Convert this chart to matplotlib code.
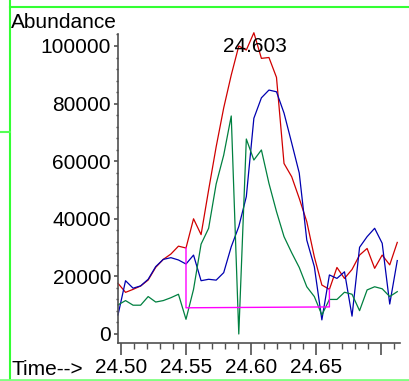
import matplotlib
matplotlib.use("Agg")
import matplotlib.pyplot as plt
from matplotlib.lines import Line2D
from matplotlib.ticker import MultipleLocator, FixedLocator

plt.rcParams['font.family'] = ['Liberation Sans', 'DejaVu Sans']

times = [24.4977, 24.5035, 24.5093, 24.5151, 24.5209, 24.5267, 24.5325, 24.5384,
         24.5442, 24.5500, 24.5558, 24.5616, 24.5674, 24.5732, 24.5790, 24.5848,
         24.5906, 24.5964, 24.6022, 24.6080, 24.6138, 24.6196, 24.6254, 24.6313,
         24.6371, 24.6429, 24.6487, 24.6545, 24.6603, 24.6661, 24.6719, 24.6777,
         24.6835, 24.6893, 24.6951, 24.7009, 24.7067, 24.7125]

red = [17600, 14460, 15500, 16660, 18740, 23140, 25900, 27770, 30500, 29850,
       40000, 34500, 50000, 65000, 78500, 89900, 100000, 98600, 104600, 95700,
       96000, 89100, 59200, 54600, 47100, 39000, 26800, 17000, 15500, 23100,
       19300, 22400, 27400, 29700, 22800, 27400, 24000, 31800]

blue = [6600, 18500, 15900, 16700, 19000, 23400, 25900, 26500, 25700, 24300,
        27400, 18500, 19000, 18700, 21300, 30300, 37300, 47700, 74900, 82000,
        84700, 84100, 76700, 66300, 55900, 32600, 23400, 4900, 20500, 19300,
        21600, 6200, 30100, 33800, 36700, 31500, 10400, 25500]

green = [10100, 11600, 10000, 10000, 13000, 11100, 11600, 12600, 13800, 5100,
         15500, 31200, 36700, 52100, 62100, 75700, 0, 67700, 60400, 63900,
         52300, 42500, 33800, 28200, 23100, 16400, 13000, 6600, 12000, 12000,
         14500, 13800, 8100, 15300, 16400, 15700, 13000, 14700]

# integration baseline (magenta)
base_t = [24.5500, 24.5500, 24.6603, 24.6603]
base_v = [29850, 9100, 9400, 15500]

peak_label = "24.603"
peak_t = 24.603
x_major = [24.50, 24.55, 24.60, 24.65, 24.70]
x_major_labels = ["24.50", "24.55", "24.60", "24.65", ""]
y_major = [0, 20000, 40000, 60000, 80000, 100000]

W, H = 409, 381
fig = plt.figure(figsize=(W / 100, H / 100), dpi=100)
fig.patch.set_facecolor('white')

L, R, T, B = 118, 400, 34, 343
ax = fig.add_axes([L / W, 1 - B / H, (R - L) / W, (B - T) / H])
ax.set_xlim(24.4977, 24.7146)
ax.set_ylim(-3125, 104160)

ax.plot(times, red, color='#d00000', lw=0.9, clip_on=False)
ax.plot(times, blue, color='#0000b0', lw=0.9, clip_on=False)
ax.plot(times, green, color='#008040', lw=0.9, clip_on=False)
ax.plot(base_t, base_v, color='#ff00ff', lw=1.0, clip_on=False)

ax.text(peak_t, 97800, peak_label, ha='center', va='baseline', fontsize=15,
        color='black')

for s in ['top', 'right']:
    ax.spines[s].set_visible(False)
for s in ['left', 'bottom']:
    ax.spines[s].set_color('#505050')
    ax.spines[s].set_linewidth(1.2)

ax.xaxis.set_major_locator(FixedLocator(x_major))
ax.set_xticklabels(x_major_labels)
ax.xaxis.set_minor_locator(MultipleLocator(0.01))
ax.yaxis.set_major_locator(FixedLocator(y_major))
ax.set_yticklabels([str(v) for v in y_major])
ax.yaxis.set_minor_locator(MultipleLocator(4000))

ax.tick_params(axis='x', which='major', direction='out', length=8.5, width=1.2,
               color='#505050', labelsize=15, pad=2)
ax.tick_params(axis='x', which='minor', direction='out', length=4.5, width=1.0,
               color='#505050')
ax.tick_params(axis='y', which='major', direction='out', length=3, width=1.2,
               color='#505050', labelsize=15, pad=2)
ax.tick_params(axis='y', which='minor', direction='out', length=1.5, width=1.0,
               color='#505050')

fig.text(11 / W, 1 - 28.5 / H, "Abundance", fontsize=15, ha='left', va='baseline')
fig.text(12 / W, 1 - 375 / H, "Time-->", fontsize=15, ha='left', va='baseline')

def fx(p):
    return p / W

def fy(p):
    return 1 - p / H

fig.add_artist(Line2D([fx(10), fx(409)], [fy(7), fy(7)], color='#33ff33', lw=1.5))
fig.add_artist(Line2D([fx(10), fx(10)], [fy(0), fy(381)], color='#33ff33', lw=1.5))
fig.add_artist(Line2D([fx(0), fx(10)], [fy(132), fy(132)], color='#55ff55', lw=1.5))
fig.add_artist(Line2D([fx(0), fx(409)], [fy(380), fy(380)], color='#80ff80', lw=2.0))

fig.savefig("out.png", dpi=100)
